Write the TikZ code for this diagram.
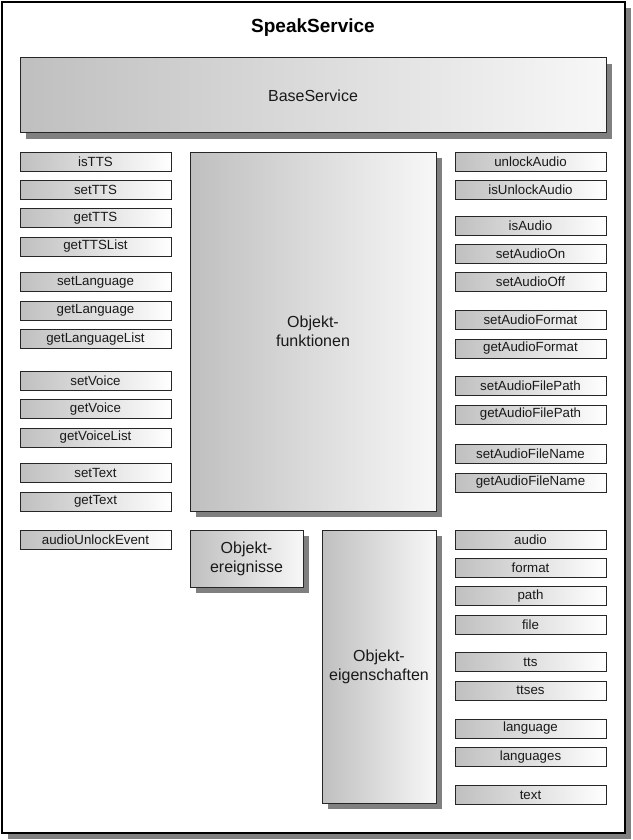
\documentclass[tikz,border=0pt]{standalone}
\usepackage{fontspec}
\setmainfont{Liberation Sans}
\usetikzlibrary{shadows}
\begin{document}
\begin{tikzpicture}[x=1pt,y=-1pt,
  sbox/.style={draw=black!85, line width=0.8pt, left color=black!25, right color=white,
    minimum width=151pt, minimum height=19pt, inner sep=0pt,
    font=\fontsize{13.3}{15}\selectfont, text=black!90},
  bigbox/.style={draw=black!85, line width=1pt, left color=black!25, right color=black!3,
    inner sep=0pt, align=center, font=\fontsize{16}{19}\selectfont, text=black!90,
    drop shadow={shadow xshift=6pt, shadow yshift=-6pt, fill=black!50, opacity=1}},
  frame/.style={draw=black, line width=1.5pt, fill=white,
    drop shadow={shadow xshift=6pt, shadow yshift=-6pt, fill=black!50, opacity=1}}]
\useasboundingbox (0,0) rectangle (632,840);
\node[frame, minimum width=623pt, minimum height=831pt, inner sep=0pt] (outer) at (313.5,417.5) {};
\node[font=\bfseries\fontsize{19}{22}\selectfont] (title) at (313,28) {SpeakService};
\node[bigbox, minimum width=586pt, minimum height=75pt] (base) at (313,95.5) {BaseService};
\node[bigbox, minimum width=246pt, minimum height=359pt] (funk) at (313,331.5) {Objekt-\\funktionen};
\node[bigbox, minimum width=113pt, minimum height=57pt] (ereig) at (246.5,558.5) {Objekt-\\ereignisse};
\node[bigbox, minimum width=114pt, minimum height=273pt] (eigen) at (379,666.5) {Objekt-\\eigenschaften};
% left column
\node[sbox] (l1) at (95.5,162) {isTTS};
\node[sbox] (l2) at (95.5,190) {setTTS};
\node[sbox] (l3) at (95.5,218) {getTTS};
\node[sbox] (l4) at (95.5,246.5) {getTTSList};
\node[sbox] (l5) at (95.5,282) {setLanguage};
\node[sbox] (l6) at (95.5,310.5) {getLanguage};
\node[sbox] (l7) at (95.5,339) {getLanguageList};
\node[sbox] (l8) at (95.5,381) {setVoice};
\node[sbox] (l9) at (95.5,409) {getVoice};
\node[sbox] (l10) at (95.5,437.5) {getVoiceList};
\node[sbox] (l11) at (95.5,473) {setText};
\node[sbox] (l12) at (95.5,501.5) {getText};
\node[sbox] (l13) at (95.5,539.5) {audioUnlockEvent};
% right column
\node[sbox] (r1) at (530.5,161.5) {unlockAudio};
\node[sbox] (r2) at (530.5,189.5) {isUnlockAudio};
\node[sbox] (r3) at (530.5,225.5) {isAudio};
\node[sbox] (r4) at (530.5,253.5) {setAudioOn};
\node[sbox] (r5) at (530.5,282) {setAudioOff};
\node[sbox] (r6) at (530.5,320) {setAudioFormat};
\node[sbox] (r7) at (530.5,348.5) {getAudioFormat};
\node[sbox] (r8) at (530.5,386) {setAudioFilePath};
\node[sbox] (r9) at (530.5,414.5) {getAudioFilePath};
\node[sbox] (r10) at (530.5,454) {setAudioFileName};
\node[sbox] (r11) at (530.5,482.5) {getAudioFileName};
\node[sbox] (r12) at (530.5,539.5) {audio};
\node[sbox] (r13) at (530.5,567.5) {format};
\node[sbox] (r14) at (530.5,596) {path};
\node[sbox] (r15) at (530.5,624.5) {file};
\node[sbox] (r16) at (530.5,662) {tts};
\node[sbox] (r17) at (530.5,690.5) {ttses};
\node[sbox] (r18) at (530.5,728.5) {language};
\node[sbox] (r19) at (530.5,757) {languages};
\node[sbox] (r20) at (530.5,795) {text};
\end{tikzpicture}
\end{document}
